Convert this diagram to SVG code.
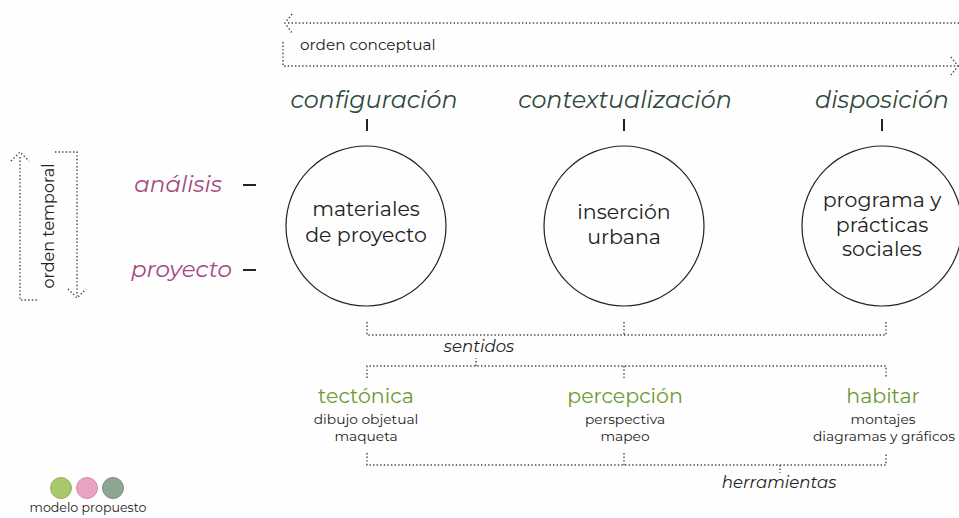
<svg xmlns="http://www.w3.org/2000/svg" width="959" height="518" viewBox="0 0 959 518">
<style>
.dot{fill:none;stroke:#444;stroke-width:1.4;stroke-dasharray:1.4 2.2}
.f{font-family:"Montserrat","Noto Sans","Open Sans",sans-serif}
.hdr{font-size:23.8px;font-style:italic;fill:#2e4a3a;text-anchor:middle}
.mag{font-size:23px;font-style:italic;fill:#a24a7e;text-anchor:end}
.circ{fill:none;stroke:#222;stroke-width:1.2}
.ct{font-size:20.5px;fill:#222;text-anchor:middle}
.grn{font-size:20.5px;fill:#6c9a2e;text-anchor:middle}
.sm{font-size:13.8px;fill:#222;text-anchor:middle}
.it{font-size:16.6px;font-style:italic;fill:#222;text-anchor:middle}
.tick{stroke:#222;stroke-width:2}
</style>
<rect width="959" height="518" fill="#fefefe"/>
<g id="connectors">
  <path class="dot" d="M288 23 H959"/>
  <path class="dot" d="M292 14 L285 23 L292 33"/>
  <path class="dot" d="M283 42 V66 H959"/>
  <path class="dot" d="M951 57 L958 66 L951 75"/>
  <path class="dot" d="M20 157 V300 H38"/>
  <path class="dot" d="M11 161 L20 152 L29 161"/>
  <path class="dot" d="M55 152 H77 V296"/>
  <path class="dot" d="M68 289 L77 298 L86 289"/>
  <path class="dot" d="M367 322 V335 H886 V322 M624 322 V335"/>
  <path class="dot" d="M367 378 V366 H886 V378 M624 366 V378 M476 366 V358"/>
  <path class="dot" d="M367 453 V465 H886 V453 M624 453 V465 M780 465 V473"/>
  <line class="tick" x1="367" y1="119" x2="367" y2="131"/>
  <line class="tick" x1="624" y1="119" x2="624" y2="131"/>
  <line class="tick" x1="882" y1="119" x2="882" y2="131"/>
  <line class="tick" x1="243" y1="185" x2="256" y2="185"/>
  <line class="tick" x1="243" y1="270" x2="256" y2="270"/>
</g>
<g id="orden-conceptual"><text class="f" x="300" y="50" font-size="15.3" fill="#222">orden conceptual</text></g>
<g id="orden-temporal"><text class="f" transform="translate(54 226) rotate(-90)" font-size="16" fill="#222" text-anchor="middle">orden temporal</text></g>
<g id="configuracion"><text class="f hdr" x="374" y="108">configuración</text></g>
<g id="contextualizacion"><text class="f hdr" x="625" y="108">contextualización</text></g>
<g id="disposicion"><text class="f hdr" x="882" y="108">disposición</text></g>
<g id="analisis"><text class="f mag" x="222" y="192">análisis</text></g>
<g id="proyecto"><text class="f mag" x="232" y="277">proyecto</text></g>
<g id="materiales">
  <circle class="circ" cx="366" cy="226" r="80"/>
  <text class="f ct" x="366" y="216">materiales</text>
  <text class="f ct" x="366" y="242">de proyecto</text>
</g>
<g id="insercion">
  <circle class="circ" cx="624" cy="226" r="80"/>
  <text class="f ct" x="624" y="219">inserción</text>
  <text class="f ct" x="624" y="244">urbana</text>
</g>
<g id="programa">
  <circle class="circ" cx="882" cy="226" r="80"/>
  <text class="f ct" x="882" y="207">programa y</text>
  <text class="f ct" x="882" y="232">prácticas</text>
  <text class="f ct" x="882" y="256">sociales</text>
</g>
<g id="sentidos"><text class="f it" x="479" y="352">sentidos</text></g>
<g id="tectonica">
  <text class="f grn" x="366" y="403">tectónica</text>
  <text class="f sm" x="366" y="424">dibujo objetual</text>
  <text class="f sm" x="366" y="441">maqueta</text>
</g>
<g id="percepcion">
  <text class="f grn" x="625" y="403">percepción</text>
  <text class="f sm" x="625" y="424">perspectiva</text>
  <text class="f sm" x="625" y="441">mapeo</text>
</g>
<g id="habitar">
  <text class="f grn" x="883" y="403">habitar</text>
  <text class="f sm" x="883" y="424">montajes</text>
  <text class="f sm" x="884" y="441">diagramas y gráficos</text>
</g>
<g id="herramientas"><text class="f it" x="779" y="488">herramientas</text></g>
<g id="legend">
  <circle cx="61" cy="488" r="10.5" fill="#a9c86c" stroke="#94b35a" stroke-width="1"/>
  <circle cx="87" cy="488" r="10.5" fill="#e9a3c4" stroke="#d48fb0" stroke-width="1"/>
  <circle cx="113" cy="488" r="10.5" fill="#8ea594" stroke="#7a9080" stroke-width="1"/>
  <text class="f" x="88" y="512" font-size="12.6" fill="#222" text-anchor="middle">modelo propuesto</text>
</g>
</svg>
